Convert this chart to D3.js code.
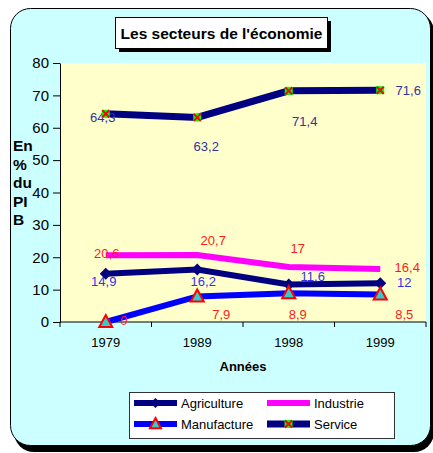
<!DOCTYPE html>
<html>
<head>
<meta charset="utf-8">
<script src="https://cdn.jsdelivr.net/npm/d3@7"></script>
<style>
  html, body { margin: 0; padding: 0; background: #ffffff; }
  svg { display: block; font-family: Arial, "Liberation Sans", sans-serif; }
</style>
</head>
<body>
<svg id="chart" width="433" height="453"></svg>
<script>
// Chart data
const years = ['1979', '1989', '1998', '1999'];
const agriculture = [14.9, 16.2, 11.6, 12];
const industrie = [20.6, 20.7, 17, 16.4];
const manufacture = [0, 7.9, 8.9, 8.5];
const service = [64.3, 63.2, 71.4, 71.6];
const yTicks = [0, 10, 20, 30, 40, 50, 60, 70, 80];

// Label offsets (px) from each point, hand placed like in the original
const serviceLabelOffsets = [[-3, 4], [9, 29], [16, 31], [28, 0]];
const agricultureLabelOffsets = [[-2, 8], [6, 12], [24, -8], [24, -1]];
const industrieLabelOffsets = [[1, -2], [16, -15], [9, -19], [27, -1]];
const manufactureLabelOffsets = [[18, -2], [24, 18], [9, 21], [24, 20]];

const series = [
    { name: 'Service', values: service, color: '#000080', width: 7, marker: 'xsquare', labelColor: '#333399', offsets: serviceLabelOffsets },
    { name: 'Industrie', values: industrie, color: '#FF00FF', width: 6, marker: 'none', labelColor: '#FF1a1a', offsets: industrieLabelOffsets },
    { name: 'Agriculture', values: agriculture, color: '#000080', width: 6, marker: 'diamond', labelColor: '#3333EE', offsets: agricultureLabelOffsets },
    { name: 'Manufacture', values: manufacture, color: '#0000FF', width: 6, marker: 'triangle', labelColor: '#FF1a1a', offsets: manufactureLabelOffsets }
];

const svg = d3.select('#chart');
const plot = { left: 60, right: 426, top: 63, bottom: 322 };

// Outer rounded panel with shadow
svg.append('rect')
    .attr('x', 14).attr('y', 12)
    .attr('width', 420).attr('height', 440)
    .attr('rx', 20)
    .attr('fill', '#000');
svg.append('rect')
    .attr('x', 10.5).attr('y', 8.5)
    .attr('width', 420).attr('height', 437)
    .attr('rx', 20)
    .attr('fill', '#CCFFFF')
    .attr('stroke', '#000')
    .attr('stroke-width', 1);

// Plot background
svg.append('rect')
    .attr('x', plot.left).attr('y', plot.top)
    .attr('width', plot.right - plot.left).attr('height', plot.bottom - plot.top)
    .attr('fill', '#FFFFCC');

// Title box
svg.append('rect')
    .attr('x', 119).attr('y', 21)
    .attr('width', 212).attr('height', 31)
    .attr('fill', '#000');
svg.append('rect')
    .attr('x', 115.5).attr('y', 17.5)
    .attr('width', 212).attr('height', 31)
    .attr('fill', '#fff')
    .attr('stroke', '#000');
svg.append('text')
    .attr('x', 221.5).attr('y', 38.5)
    .attr('text-anchor', 'middle')
    .attr('font-size', '15.5px')
    .attr('font-weight', 'bold')
    .text("Les secteurs de l'économie");

// Scales
const x = d3.scalePoint()
    .domain(years)
    .range([plot.left, plot.right])
    .padding(0.5);
const y = d3.scaleLinear()
    .domain([0, 80])
    .range([plot.bottom, plot.top]);

// Y axis
const yAxis = svg.append('g')
    .attr('transform', `translate(${plot.left},0)`)
    .call(d3.axisLeft(y).tickValues(yTicks).tickSize(7).tickPadding(4).tickSizeOuter(0));
yAxis.selectAll('text').attr('font-size', '15px').attr('fill', '#000').attr('font-family', 'Arial, "Liberation Sans", sans-serif');
yAxis.selectAll('line, path').attr('stroke', '#000');

// X axis with ticks between categories
const step = x.step();
const xAxis = svg.append('g').attr('transform', `translate(0,${plot.bottom})`);
xAxis.append('line')
    .attr('x1', plot.left).attr('x2', plot.right)
    .attr('stroke', '#000');
xAxis.selectAll('.xtick')
    .data(d3.range(years.length + 1))
    .enter()
    .append('line')
    .attr('x1', i => x(years[0]) - step / 2 + i * step)
    .attr('x2', i => x(years[0]) - step / 2 + i * step)
    .attr('y1', 0).attr('y2', 5)
    .attr('stroke', '#000');
xAxis.selectAll('.xlabel')
    .data(years)
    .enter()
    .append('text')
    .attr('x', d => x(d))
    .attr('y', 25)
    .attr('text-anchor', 'middle')
    .attr('font-size', '13px')
    .text(d => d);

// Axis titles
svg.append('text')
    .attr('x', 243).attr('y', 371)
    .attr('text-anchor', 'middle')
    .attr('font-size', '13px')
    .attr('font-weight', 'bold')
    .text('Années');

const yTitle = ['En', '%', 'du', 'PI', 'B'];
svg.selectAll('.ytitle')
    .data(yTitle)
    .enter()
    .append('text')
    .attr('x', 13)
    .attr('y', (d, i) => 151 + i * 18.5)
    .attr('font-size', '15.5px')
    .attr('font-weight', 'bold')
    .text(d => d);

// Markers
function drawMarker(g, type, cx, cy, scale) {
    const s = scale || 1;
    if (type === 'diamond') {
        g.append('path')
            .attr('d', `M${cx},${cy - 6 * s}L${cx + 6 * s},${cy}L${cx},${cy + 6 * s}L${cx - 6 * s},${cy}Z`)
            .attr('fill', '#000080');
    } else if (type === 'triangle') {
        g.append('path')
            .attr('d', `M${cx},${cy - 7 * s}L${cx + 6.5 * s},${cy + 5 * s}L${cx - 6.5 * s},${cy + 5 * s}Z`)
            .attr('fill', '#33CCCC')
            .attr('stroke', '#FF0000')
            .attr('stroke-width', 2);
    } else if (type === 'xsquare') {
        g.append('rect')
            .attr('x', cx - 4).attr('y', cy - 4)
            .attr('width', 8).attr('height', 8)
            .attr('fill', '#00FF00');
        g.append('path')
            .attr('d', `M${cx - 3.5},${cy - 3.5}L${cx + 3.5},${cy + 3.5}M${cx + 3.5},${cy - 3.5}L${cx - 3.5},${cy + 3.5}`)
            .attr('stroke', '#FF0000')
            .attr('stroke-width', 2);
    }
}

const fmt = v => String(v).replace('.', ',');
const line = d3.line()
    .x((d, i) => x(years[i]))
    .y(d => y(d));

// Lines
series.forEach(s => {
    svg.append('path')
        .datum(s.values)
        .attr('d', line)
        .attr('fill', 'none')
        .attr('stroke', s.color)
        .attr('stroke-width', s.width)
        .attr('stroke-linejoin', 'miter');
});

// Data labels
series.forEach(s => {
    svg.selectAll(null)
        .data(s.values)
        .enter()
        .append('text')
        .attr('x', (d, i) => x(years[i]) + s.offsets[i][0])
        .attr('y', (d, i) => y(d) + s.offsets[i][1])
        .attr('dy', '0.35em')
        .attr('text-anchor', 'middle')
        .attr('font-size', '13px')
        .attr('fill', s.labelColor)
        .text(d => fmt(d));
});

// Point markers
series.forEach(s => {
    const g = svg.append('g');
    s.values.forEach((v, i) => drawMarker(g, s.marker, x(years[i]), y(v)));
});

// Legend
const legend = svg.append('g');
legend.append('rect')
    .attr('x', 129.5).attr('y', 392.5)
    .attr('width', 265).attr('height', 46)
    .attr('fill', '#fff')
    .attr('stroke', '#333');

const legendOrder = ['Agriculture', 'Industrie', 'Manufacture', 'Service'];
legendOrder.forEach((name, i) => {
    const s = series.find(d => d.name === name);
    const lx = i % 2 === 0 ? 134 : 267;
    const ly = i < 2 ? 403 : 424;
    legend.append('line')
        .attr('x1', lx).attr('x2', lx + 43)
        .attr('y1', ly).attr('y2', ly)
        .attr('stroke', s.color)
        .attr('stroke-width', s.width);
    drawMarker(legend, s.marker, lx + 21.5, ly, 0.85);
    legend.append('text')
        .attr('x', lx + 47)
        .attr('y', ly)
        .attr('dy', '0.35em')
        .attr('font-size', '13px')
        .text(name);
});
</script>
</body>
</html>
